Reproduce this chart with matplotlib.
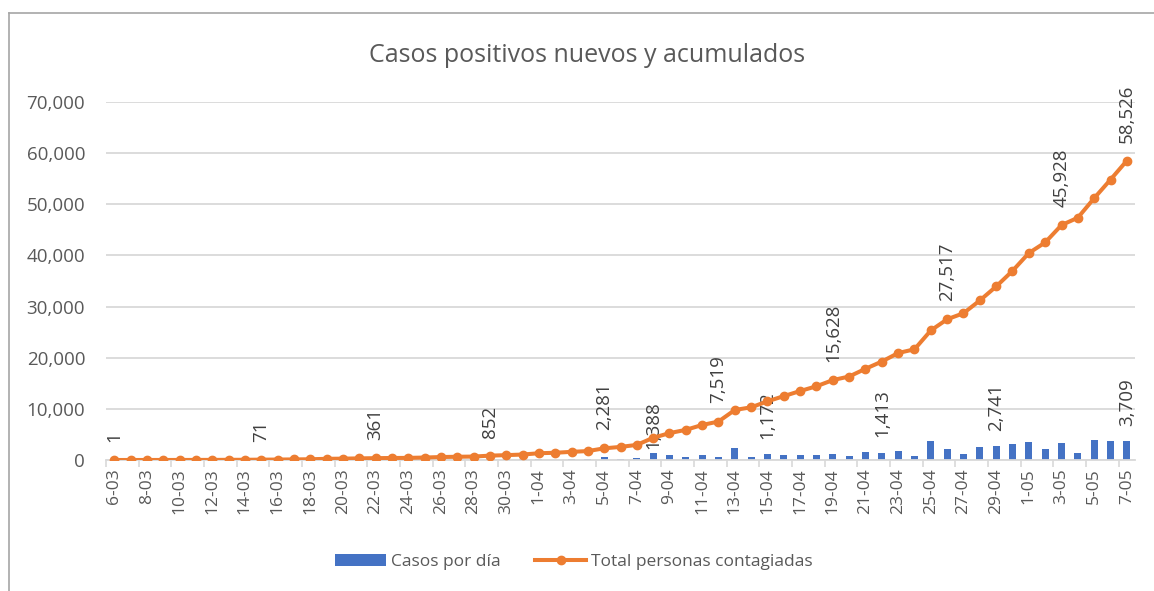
import matplotlib
matplotlib.use("Agg")
import matplotlib.pyplot as plt
from matplotlib.lines import Line2D
from matplotlib.ticker import FuncFormatter

plt.rcParams['font.family'] = ['Open Sans', 'DejaVu Sans']

# fechas (6 de marzo a 7 de mayo)
fechas = ([f"{d}-03" for d in range(6, 32)] +
          [f"{d}-04" for d in range(1, 31)] +
          [f"{d}-05" for d in range(1, 8)])

casos_dia = [1, 5, 1, 2, 2, 6, 5, 16, 5, 28, 15, 31, 28, 89, 29, 55, 43, 34, 21, 64,
             100, 55, 36, 181, 98, 115,
             258, 91, 181, 151, 535, 280, 393, 1388, 914, 641, 951, 671, 2265, 519,
             1172, 1016, 998, 931, 1208, 697, 1512, 1413, 1664, 734, 3683, 2186, 1182,
             2491, 2741, 3045,
             3483, 2075, 3394, 1444, 3817, 3628, 3709]

total = [1, 6, 7, 9, 11, 17, 22, 38, 43, 71, 86, 117, 145, 234, 263, 318, 361, 395, 416,
         480, 580, 635, 671, 852, 950, 1065,
         1323, 1414, 1595, 1746, 2281, 2561, 2954, 4342, 5256, 5897, 6848, 7519, 9784,
         10303, 11475, 12491, 13489, 14420, 15628, 16325, 17837, 19250, 20914, 21648,
         25331, 27517, 28699, 31190, 33931, 36976,
         40459, 42534, 45928, 47372, 51189, 54817, 58526]

# dias con etiqueta
etiq_total = ["6-03", "15-03", "22-03", "29-03", "5-04", "12-04", "19-04", "26-04", "3-05", "7-05"]
etiq_dia = ["8-04", "15-04", "22-04", "29-04", "7-05"]

azul = "#4472c4"
naranja = "#ed7d31"
gris = "#595959"

fig = plt.figure(figsize=(11.54, 5.91), dpi=100)
ax = fig.add_axes([106/1154, 1-460/591, (1135-106)/1154, (460-102)/591])

x = list(range(len(fechas)))
barras = ax.bar(x, casos_dia, width=0.42, color=azul, zorder=2, label="Casos por día")
linea, = ax.plot(x, total, color=naranja, lw=2.9, marker="o", ms=6, zorder=3,
                 label="Total personas contagiadas")

for f in etiq_total:
    i = fechas.index(f)
    ax.annotate(f"{total[i]:,}", (i, total[i]), xytext=(0, 13), textcoords="offset points",
                rotation=90, ha="center", va="bottom", fontsize=13.5, color="#404040", zorder=4)
for f in etiq_dia:
    i = fechas.index(f)
    off = 3 if f == "8-04" else 11
    ax.annotate(f"{casos_dia[i]:,}", (i, casos_dia[i]), xytext=(0, off), textcoords="offset points",
                rotation=90, ha="center", va="bottom", fontsize=13.5, color="#404040", zorder=1)

ax.set_xlim(-0.5, len(fechas) - 0.5)
ax.set_ylim(0, 70000)
ax.set_yticks(range(0, 70001, 10000))
ax.yaxis.set_major_formatter(FuncFormatter(lambda v, p: f"{int(v):,}"))
ax.set_xticks(x[::2])
ax.set_xticklabels(fechas[::2], rotation=90)
ax.set_xticks([i - 0.5 for i in x[::2]], minor=True)
ax.tick_params(axis="x", which="major", length=0, pad=6, labelsize=12.5, labelcolor=gris)
ax.tick_params(axis="x", which="minor", length=5, color="#d9d9d9", width=1.2)
ax.tick_params(axis="y", length=0, pad=15, labelsize=13.5, labelcolor=gris)
ax.grid(axis="y", color="#d9d9d9", lw=1.3, zorder=0)
ax.set_axisbelow(True)
for s in ["top", "right", "left"]:
    ax.spines[s].set_visible(False)
ax.spines["bottom"].set_color("#d9d9d9")
ax.spines["bottom"].set_linewidth(1.3)

fig.text(587/1154, 1-55/591, "Casos positivos nuevos y acumulados", ha="center", va="center",
         fontsize=18, color=gris)

fig.legend([barras, linea], ["Casos por día", "Total personas contagiadas"],
           loc="center", bbox_to_anchor=(574/1154, 1-562/591), ncol=2, frameon=False,
           fontsize=12.5, labelcolor=gris, handlelength=2.9, handleheight=0.65,
           handletextpad=0.3, columnspacing=2.0)

# marco del grafico
fig.add_artist(Line2D([9/1154, 9/1154], [0, 1-13/591], color="#a6a6a6", lw=1.2))
fig.add_artist(Line2D([9/1154, 1], [1-13/591, 1-13/591], color="#a6a6a6", lw=1.2))

fig.savefig("out.png", dpi=100)
